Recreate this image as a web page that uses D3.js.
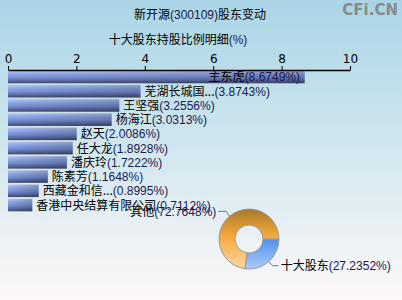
<!DOCTYPE html>
<html><head><meta charset="utf-8">
<script src="https://cdn.jsdelivr.net/npm/d3@7"></script>
<style>
html,body{margin:0;padding:0;overflow:hidden;}
svg{display:block;font-family:"Noto Sans CJK SC","Noto Sans",sans-serif;}
</style></head>
<body>
<svg id="c" width="402" height="300"></svg>
<script>
const titleMain = "新开源";
const titleCode = "(300109)";
const titleTail = "股东变动";
const subTitle = "十大股东持股比例明细";
const holders = ["主东虎","芜湖长城国...","王坚强","杨海江","赵天","任大龙","潘庆玲","陈素芳","西藏金和信...","香港中央结算有限公司"];
const shares = [8.6749,3.8743,3.2556,3.0313,2.0086,1.8928,1.7222,1.1648,0.8995,0.7112];
const tickValues = [0,2,4,6,8,10];
const pieLabels = ["十大股东","其他"];
const pieValues = [27.2352,72.7648];

const numFont = "Liberation Sans, Arial, sans-serif";
const svg = d3.select("#c");
const defs = svg.append("defs");
const bg = defs.append("linearGradient").attr("id","bg").attr("x1",0).attr("y1",0).attr("x2",0).attr("y2",1);
bg.append("stop").attr("offset","0%").attr("stop-color","#a9d5e6");
bg.append("stop").attr("offset","55%").attr("stop-color","#d6e9f0");
bg.append("stop").attr("offset","100%").attr("stop-color","#fdf8f8");
svg.append("rect").attr("width",402).attr("height",300).attr("fill","url(#bg)");

const bar = defs.append("linearGradient").attr("id","bar").attr("x1",0).attr("y1",0).attr("x2",0).attr("y2",1);
[["0%","#bcc8ea"],["25%","#92aaf0"],["55%","#7890d4"],["80%","#5a6aa4"],["100%","#404a6c"]].forEach(s=>bar.append("stop").attr("offset",s[0]).attr("stop-color",s[1]));
const barR = defs.append("linearGradient").attr("id","barR").attr("x1",0).attr("y1",0).attr("x2",1).attr("y2",0);
barR.append("stop").attr("offset","0%").attr("stop-color","#000").attr("stop-opacity",0);
barR.append("stop").attr("offset","100%").attr("stop-color","#000").attr("stop-opacity",0.2);

// watermark
svg.append("text").attr("x",398).attr("y",15).attr("text-anchor","end")
  .attr("font-family","DejaVu Sans, sans-serif").attr("font-weight","bold").attr("font-size",15)
  .attr("fill","#8a8a8a").text("CFi.CN");

// titles
const t1 = svg.append("text").attr("x",200).attr("y",19).attr("text-anchor","middle").attr("font-size",12).attr("fill","#000");
t1.append("tspan").text(titleMain);
t1.append("tspan").attr("fill","#1a1a50").attr("font-family",numFont).text(titleCode);
t1.append("tspan").text(titleTail);
const t2 = svg.append("text").attr("x",178).attr("y",44).attr("text-anchor","middle").attr("font-size",12).attr("fill","#000");
t2.append("tspan").text(subTitle);
t2.append("tspan").attr("fill","#1a1a50").attr("font-family",numFont).text("(%)");

const x = d3.scaleLinear().domain([0,10]).range([8,350]);
const y = d3.scaleBand().domain(holders).range([70,212]).paddingInner(0.12).paddingOuter(0.05);

// bars
const g = svg.append("g");
g.selectAll("rect.b").data(holders).join("rect").attr("class","b")
  .attr("x",x(0)).attr("y",d=>y(d)).attr("height",y.bandwidth())
  .attr("width",(d,i)=>x(shares[i])-x(0)).attr("fill","url(#bar)");
g.selectAll("rect.r").data(holders).join("rect").attr("class","r")
  .attr("x",x(0)).attr("y",d=>y(d)).attr("height",y.bandwidth())
  .attr("width",(d,i)=>x(shares[i])-x(0)).attr("fill","url(#barR)");

// axis
const ax = svg.append("g").attr("transform","translate(0,70)")
  .call(d3.axisTop(x).tickValues(tickValues).tickSize(4).tickSizeOuter(0).tickPadding(3).tickFormat(d3.format("d")));
ax.selectAll("text").attr("font-size",12).attr("fill","#000").attr("font-family","DejaVu Sans, sans-serif");
ax.select(".domain").attr("stroke","#000").attr("stroke-width",1.5);
ax.selectAll(".tick line").attr("stroke","#000");

// labels
holders.forEach((h,i)=>{
  const t = svg.append("text").attr("y",y(h)+y.bandwidth()/2+4.5).attr("font-size",12).attr("fill","#000");
  t.append("tspan").text(h);
  t.append("tspan").attr("fill","#1a1a50").attr("font-family",numFont).attr("font-size",12).text("("+shares[i].toFixed(4)+"%)");
  let lx = x(shares[i])+4;
  const w = t.node().getComputedTextLength();
  if (lx + w > 300) lx = 300 - w;
  t.attr("x",lx);
});

// donut
const cx=249, cy=239, R=30, r0=14;
const og = defs.append("linearGradient").attr("id","og").attr("gradientUnits","userSpaceOnUse")
  .attr("x1",0).attr("y1",-R).attr("x2",0).attr("y2",R);
[["0%","#a8782c"],["45%","#f5a93a"],["100%","#fdd8a4"]].forEach(s=>og.append("stop").attr("offset",s[0]).attr("stop-color",s[1]));
const bgd = defs.append("linearGradient").attr("id","bgd").attr("gradientUnits","userSpaceOnUse")
  .attr("x1",0).attr("y1",-R).attr("x2",0).attr("y2",R);
[["0%","#2f6fd8"],["50%","#4f90ee"],["100%","#aecbf8"]].forEach(s=>bgd.append("stop").attr("offset",s[0]).attr("stop-color",s[1]));
const pie = d3.pie().sort(null).startAngle(Math.PI/2).endAngle(Math.PI/2+2*Math.PI);
const arcs = pie(pieValues);
const arc = d3.arc().innerRadius(r0).outerRadius(R);
const pg = svg.append("g").attr("transform",`translate(${cx},${cy})`);
pg.selectAll("path").data(arcs).join("path").attr("d",arc)
  .attr("fill",(d,i)=>i===0?"url(#bgd)":"url(#og)").attr("stroke","#999").attr("stroke-width",1);

// pie labels
arcs.forEach((a,i)=>{
  const m=(a.startAngle+a.endAngle)/2;
  const px=cx+R*Math.sin(m), py=cy-R*Math.cos(m);
  const right = Math.sin(m)>0;
  const ex = px + (right?4:-3), ey = py + (Math.cos(m)<0?4:-5);
  const hx = ex + (right?6:-8);
  svg.append("polyline").attr("points",`${px},${py} ${ex},${ey} ${hx},${ey}`).attr("fill","none").attr("stroke","#777").attr("stroke-width",1);
  const t = svg.append("text").attr("y",ey+4.5).attr("font-size",12).attr("fill","#000")
    .attr("x",right?hx+2:hx-2).attr("text-anchor",right?"start":"end");
  t.append("tspan").text(pieLabels[i]);
  t.append("tspan").attr("fill","#1a1a50").attr("font-family",numFont).attr("font-size",12).text("("+pieValues[i].toFixed(4)+"%)");
});
</script>
</body></html>
